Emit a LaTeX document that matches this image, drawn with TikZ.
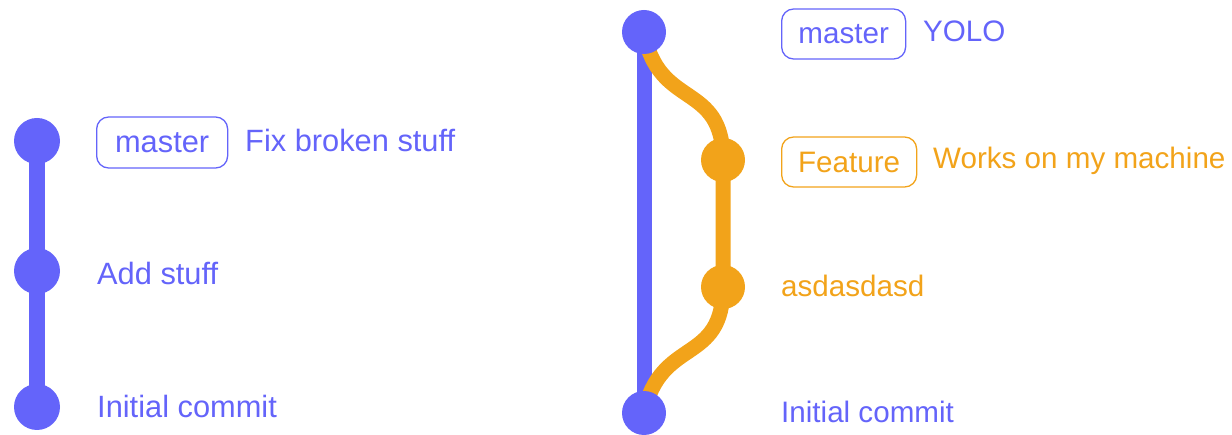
\documentclass[tikz,border=0pt]{standalone}
\usepackage{fontspec}
\setmainfont{Liberation Sans}
\usetikzlibrary{backgrounds}
\definecolor{gblue}{RGB}{100,100,250}
\definecolor{gorange}{RGB}{242,163,26}
\begin{document}
\begin{tikzpicture}[x=1pt,y=-1pt,
  commit/.style={circle,fill=#1,draw=none,minimum size=46pt,inner sep=0pt},
  rcommit/.style={circle,fill=#1,draw=none,minimum size=44pt,inner sep=0pt},
  lbl/.style={anchor=base west,inner sep=0pt,text=#1,font=\fontsize{30.8}{36}\selectfont},
  rlbl/.style={anchor=base west,inner sep=0pt,text=#1,font=\fontsize{29.6}{35}\selectfont},
  tagbox/.style={draw=#1,text=#1,line width=1.3pt,rounded corners=12pt,anchor=west,inner sep=0pt},
  branch/.style={draw=#1,line width=16pt},
  rbranch/.style={draw=#1,line width=15pt}]
\useasboundingbox (0,0) rectangle (1232,435);
% left graph
\node[commit=gblue] (l1) at (37,141) {};
\node[commit=gblue] (l2) at (37,271) {};
\node[commit=gblue] (l3) at (37,407) {};
\begin{pgfonlayer}{background}
\draw[branch=gblue] (l1.center) -- (l2.center) -- (l3.center);
\end{pgfonlayer}
\node[tagbox=gblue,minimum width=131pt,minimum height=51pt,font=\fontsize{30.8}{36}\selectfont] (lm) at (96,142.5) {master};
\node[lbl=gblue] (lt1) at (245,152) {Fix broken stuff};
\node[lbl=gblue] (lt2) at (97,285) {Add stuff};
\node[lbl=gblue] (lt3) at (97,418) {Initial commit};
% right graph
\node[rcommit=gblue] (m2) at (644,32) {};
\node[rcommit=gorange] (f1) at (723,160) {};
\node[rcommit=gorange] (f2) at (723,287) {};
\node[rcommit=gblue] (m1) at (644,413) {};
\begin{pgfonlayer}{background}
\draw[rbranch=gblue] (m2.center) -- (m1.center);
\draw[rbranch=gorange] (m2.center) to[out=-80,in=90,looseness=1.35] (f1.center) -- (f2.center) to[out=-90,in=78,looseness=1.35] (m1.center);
\end{pgfonlayer}
\node[tagbox=gblue,minimum width=124pt,minimum height=50pt,font=\fontsize{29.6}{35}\selectfont] (rm) at (781,34) {master};
\node[rlbl=gblue] (rt1) at (923,42) {YOLO};
\node[tagbox=gorange,minimum width=135pt,minimum height=50pt,font=\fontsize{29.6}{35}\selectfont] (rf) at (781,162) {Feature};
\node[rlbl=gorange] (rt2) at (933,169) {Works on my machine};
\node[rlbl=gorange] (rt3) at (781,297) {asdasdasd};
\node[rlbl=gblue] (rt4) at (781,423) {Initial commit};
\end{tikzpicture}
\end{document}
